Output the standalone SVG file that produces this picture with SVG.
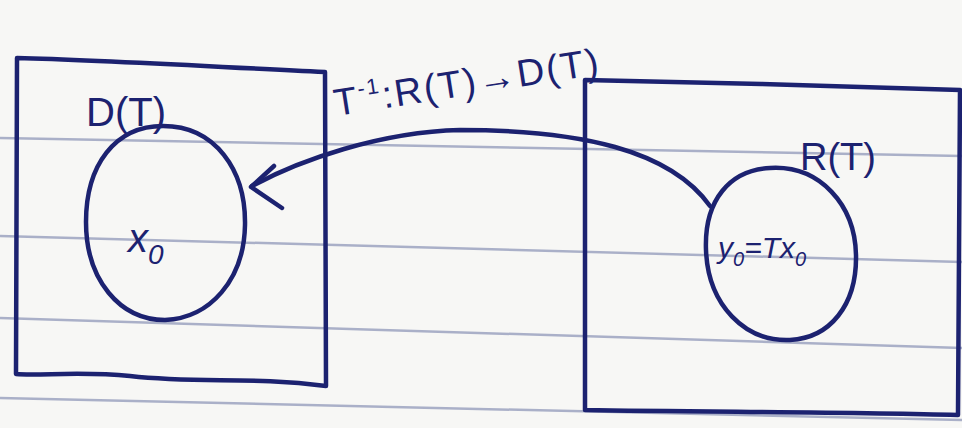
<svg xmlns="http://www.w3.org/2000/svg" width="962" height="428" viewBox="0 0 962 428">
<style>
.ink{fill:none;stroke:#1c2270;stroke-width:4.5;stroke-linecap:round;stroke-linejoin:round}
.rule{fill:none;stroke:#aab0c8;stroke-width:2.5}
.lbl{font-family:"Liberation Sans",Arial,sans-serif;fill:#1c2270}
</style>
<rect width="962" height="428" fill="#f7f7f5"/>
<g id="paper-lines">
<path class="rule" d="M0,138 L962,156"/>
<path class="rule" d="M0,236 L962,262"/>
<path class="rule" d="M0,318 L962,348"/>
<path class="rule" d="M0,398 L962,420"/>
</g>
<g id="domain">
<path class="ink" d="M17,58 C100,60 200,66 325,72 L326,386 C250,376 200,384 130,376 C80,371 40,376 16,374 Z"/>
<text class="lbl" x="86" y="126" font-size="40">D(T)</text>
</g>
<g id="x0">
<path class="ink" d="M163,126 C215,126 246,170 245,225 C244,280 210,318 165,320 C120,320 86,280 86,222 C86,165 115,126 163,126 Z"/>
<text class="lbl" x="128" y="252" font-size="40" font-style="italic">x<tspan font-size="28" dy="12">0</tspan></text>
</g>
<g id="range">
<path class="ink" d="M585,80 C700,82 850,86 960,90 L958,415 C850,412 700,412 585,410 Z"/>
<text class="lbl" x="800" y="170" font-size="38">R(T)</text>
</g>
<g id="y0">
<path class="ink" d="M770,168 C820,165 855,205 856,255 C857,305 830,338 790,340 C745,342 708,305 706,250 C704,200 730,170 770,168 Z"/>
<text class="lbl" x="718" y="258" font-size="30" font-style="italic">y<tspan font-size="20" dy="8">0</tspan><tspan dy="-8">=Tx</tspan><tspan font-size="20" dy="8">0</tspan></text>
</g>
<g id="connectors">
<path class="ink" d="M710,206 C670,150 580,130 460,130 C380,132 300,160 252,186"/>
<path class="ink" d="M274,166 L251,187 L282,208"/>
<text class="lbl" font-size="38" letter-spacing="2" transform="translate(336,116) rotate(-9)">T<tspan font-size="22" dy="-16">-1</tspan><tspan dy="16">:R(T)→D(T)</tspan></text>
</g>
</svg>
